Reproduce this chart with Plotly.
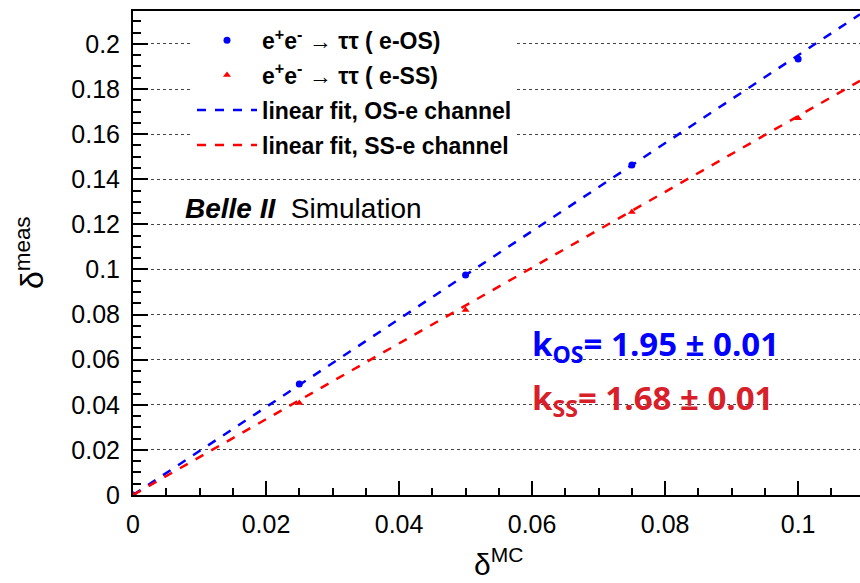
import plotly.graph_objects as go

# ---- data ----
delta_mc = [0.0, 0.025, 0.05, 0.075, 0.1]
delta_meas_os = [0.0, 0.0492, 0.0976, 0.1463, 0.1933]
delta_meas_ss = [0.0, 0.0408, 0.0820, 0.1255, 0.1670]
k_os, k_os_err = 1.95, 0.01
k_ss, k_ss_err = 1.68, 0.01
fit_x = [0.0, 0.1093]

x_range = [0.0, 0.1093]
y_range = [0.0, 0.2146]

BLUE = "#0000ff"
RED = "#ff0000"
RED_TXT = "#d7202a"

fig = go.Figure()

fig.add_trace(go.Scatter(
    x=delta_mc, y=delta_meas_os, mode="markers", legendgroup="a",
    marker=dict(symbol="circle", size=7, color=BLUE),
    name="e<sup>+</sup>e<sup>-</sup> → ττ ( e-OS)"))
fig.add_trace(go.Scatter(
    x=delta_mc, y=delta_meas_ss, mode="markers", legendgroup="b",
    marker=dict(symbol="triangle-up", size=7, color=RED),
    name="e<sup>+</sup>e<sup>-</sup> → ττ ( e-SS)"))
fig.add_trace(go.Scatter(
    x=fit_x, y=[k_os * v for v in fit_x], mode="lines", legendgroup="c",
    line=dict(color=BLUE, width=2.5, dash="dash"),
    name="linear fit, OS-e channel"))
fig.add_trace(go.Scatter(
    x=fit_x, y=[k_ss * v for v in fit_x], mode="lines", legendgroup="d",
    line=dict(color=RED, width=2.5, dash="dash"),
    name="linear fit, SS-e channel"))

tickfont = dict(family="Liberation Sans, Arial, sans-serif", size=25, color="black")

fig.update_layout(
    width=860, height=583,
    margin=dict(l=133, r=0, t=11, b=88),
    paper_bgcolor="white", plot_bgcolor="white",
    showlegend=True,
    legend=dict(
        x=(192 - 133) / 727, y=0.984, xanchor="left", yanchor="top",
        bgcolor="white", borderwidth=0,
        font=dict(family="Liberation Sans, Arial, sans-serif", size=23,
                  color="black", weight="bold"),
        itemwidth=60, tracegroupgap=2,
    ),
    xaxis=dict(
        range=x_range, dtick=0.02, tick0=0,
        showgrid=False, zeroline=False,
        showline=True, linecolor="black", linewidth=2, mirror=True,
        ticks="inside", ticklen=14, tickwidth=1.5, tickcolor="black",
        tickfont=tickfont, ticklabelstandoff=6,
        minor=dict(dtick=0.005, ticks="inside", ticklen=7, tickwidth=1.5,
                   tickcolor="black", showgrid=False),
    ),
    yaxis=dict(
        range=y_range, dtick=0.02, tick0=0,
        showgrid=True, gridcolor="#444444", griddash="dot", gridwidth=1,
        zeroline=False,
        showline=True, linecolor="black", linewidth=2, mirror=False,
        ticks="inside", ticklen=15, tickwidth=1.5, tickcolor="black",
        tickfont=tickfont, ticklabelstandoff=6,
        minor=dict(dtick=0.005, ticks="inside", ticklen=8, tickwidth=1.5,
                   tickcolor="black", showgrid=False),
    ),
)

annos = [
    dict(text="δ<sup>MC</sup>", xref="paper", yref="paper",
         x=(498 - 133) / 727, y=-(562 - 495) / 484, xanchor="center", yanchor="middle",
         font=dict(family="Liberation Sans, Arial, sans-serif", size=30, color="black")),
    dict(text="δ<sup>meas</sup>", xref="paper", yref="paper", textangle=-90,
         x=-(133 - 30) / 727, y=(495 - 252) / 484, xanchor="center", yanchor="middle",
         font=dict(family="Liberation Sans, Arial, sans-serif", size=32, color="black")),
    dict(text="<b><i>Belle II</i></b>  Simulation", xref="paper", yref="paper",
         x=(183 - 133) / 727, y=(495 - 209) / 484, xanchor="left", yanchor="middle",
         font=dict(family="Liberation Sans, Arial, sans-serif", size=28, color="black")),
    dict(text=f"<b>k<sub>OS</sub>= {k_os:.2f} ± {k_os_err:.2f}</b>", xref="paper", yref="paper",
         x=(530 - 133) / 727, y=(495 - 345) / 484, xanchor="left", yanchor="middle",
         font=dict(family="Open Sans, Noto Sans, sans-serif", size=33, color=BLUE)),
    dict(text=f"<b>k<sub>SS</sub>= {k_ss:.2f} ± {k_ss_err:.2f}</b>", xref="paper", yref="paper",
         x=(530 - 133) / 727, y=(495 - 400) / 484, xanchor="left", yanchor="middle",
         font=dict(family="Open Sans, Noto Sans, sans-serif", size=33, color=RED_TXT)),
]
for a in annos:
    a["showarrow"] = False
    fig.add_annotation(**a)

fig.write_html("out.html")
